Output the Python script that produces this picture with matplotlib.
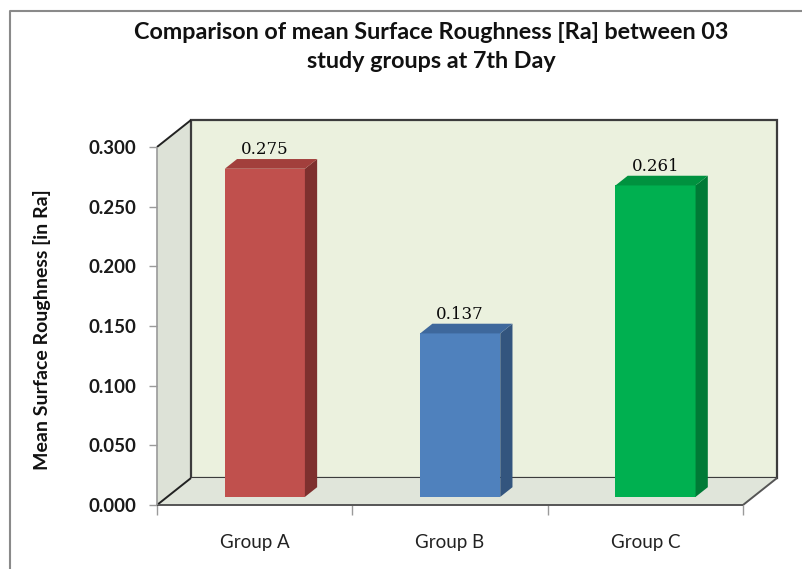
import matplotlib.pyplot as plt
from matplotlib.patches import Polygon
from matplotlib.lines import Line2D

groups = ['Group A', 'Group B', 'Group C']
mean_ra = [0.275, 0.137, 0.261]
y_ticks = [0.0, 0.05, 0.1, 0.15, 0.2, 0.25, 0.3]

front_colors = ['#C0504D', '#4F81BD', '#00B050']
top_colors = ['#A23F3C', '#3E689C', '#00923F']
side_colors = ['#7E302E', '#33557E', '#007A36']

# depth of the fake 3d box, in data units
DX = 0.174
DY = 0.0226


def poly(ax, pts, face, edge='none', lw=0, z=1):
    ax.add_patch(Polygon(pts, closed=True, facecolor=face, edgecolor=edge,
                         linewidth=lw, zorder=z, clip_on=False))


def line(ax, xs, ys, color, lw, z=2):
    ax.add_line(Line2D(xs, ys, color=color, linewidth=lw, zorder=z,
                       clip_on=False, solid_capstyle='butt'))


def draw_box(ax, x0, x1, ytop):
    # side wall, back wall, floor
    poly(ax, [(x0, 0), (x0, ytop), (x0 + DX, ytop + DY), (x0 + DX, DY)], '#DDE2D7')
    poly(ax, [(x0 + DX, DY), (x1 + DX, DY), (x1 + DX, ytop + DY), (x0 + DX, ytop + DY)],
         '#EBF1DE', edge='#3C3C3C', lw=1.6)
    poly(ax, [(x0, 0), (x1, 0), (x1 + DX, DY), (x0 + DX, DY)], '#E0E5DA')
    line(ax, [x0, x0 + DX], [ytop, ytop + DY], '#222222', 1.4)
    line(ax, [x0, x0 + DX], [0, DY], '#222222', 1.4)
    line(ax, [x0, x1], [0, 0], '#555555', 1.4)
    line(ax, [x1, x1 + DX], [0, DY], '#555555', 1.4)
    line(ax, [x0, x0], [0, ytop], '#9A9A9A', 1.2)


def draw_bars(ax):
    w = 0.205
    f0, f1 = 0.3, 0.66
    for i, v in enumerate(mean_ra):
        xl = i - w + f0 * DX
        xr = i + w + f0 * DX
        yb = f0 * DY
        sx = (f1 - f0) * DX
        sy = (f1 - f0) * DY
        poly(ax, [(xl, yb), (xr, yb), (xr, yb + v), (xl, yb + v)], front_colors[i], z=3)
        poly(ax, [(xr, yb), (xr + sx, yb + sy), (xr + sx, yb + sy + v), (xr, yb + v)],
             side_colors[i], z=3)
        poly(ax, [(xl, yb + v), (xr, yb + v), (xr + sx, yb + sy + v), (xl + sx, yb + sy + v)],
             top_colors[i], z=3)
        ax.annotate('%.3f' % v, (i + f0 * DX, f1 * DY + v), xytext=(0, 3.5),
                    textcoords='offset points', ha='center', va='baseline',
                    fontsize=12, family='DejaVu Serif', color='#0a0a0a', zorder=5)


def main():
    fig = plt.figure(figsize=(8.02, 5.69), dpi=100)
    ax = fig.add_axes([157 / 802, 64 / 569, 586 / 802, 358 / 569])
    ax.set_xlim(-0.5, 2.5)
    ax.set_ylim(0, 0.3)
    ax.set_facecolor('none')
    for s in ax.spines.values():
        s.set_visible(False)

    draw_box(ax, -0.5, 2.5, 0.3)
    draw_bars(ax)

    ax.set_yticks(y_ticks)
    ax.set_yticklabels(['%.3f' % t for t in y_ticks])
    ax.tick_params(axis='y', length=6, width=1, color='#9A9A9A', pad=9,
                   labelsize=13.5, labelcolor='#1a1a1a')
    for t in ax.get_yticklabels():
        t.set_family('Lato')
        t.set_weight('bold')

    ax.set_xticks([0, 1, 2])
    ax.set_xticklabels(groups)
    ax.set_xticks([-0.5, 0.5, 1.5, 2.5], minor=True)
    ax.tick_params(axis='x', which='major', length=0, pad=21,
                   labelsize=13.5, labelcolor='#222222')
    ax.tick_params(axis='x', which='minor', length=7, width=1, color='#9A9A9A')
    for t in ax.get_xticklabels():
        t.set_family('Lato')

    fig.text(431 / 802, 1 - 39 / 569, 'Comparison of mean Surface Roughness [Ra] between 03',
             ha='center', va='baseline', fontsize=16.8, family='Lato', weight='bold',
             color='#111111')
    fig.text(431 / 802, 1 - 68 / 569, 'study groups at 7th Day',
             ha='center', va='baseline', fontsize=16.8, family='Lato', weight='bold',
             color='#111111')
    fig.text(42 / 802, 1 - 330 / 569, 'Mean Surface Roughness [in Ra]', rotation=90,
             ha='center', va='center', fontsize=14, family='Lato', weight='bold',
             color='#111111')

    # outer chart frame
    fig.add_artist(Line2D([10 / 802, 10 / 802, 1.0], [0.0, 1 - 11 / 569, 1 - 11 / 569],
                          transform=fig.transFigure, color='#8A8A8A', linewidth=1.5))

    fig.savefig('out.png', dpi=100)


if __name__ == '__main__':
    main()
